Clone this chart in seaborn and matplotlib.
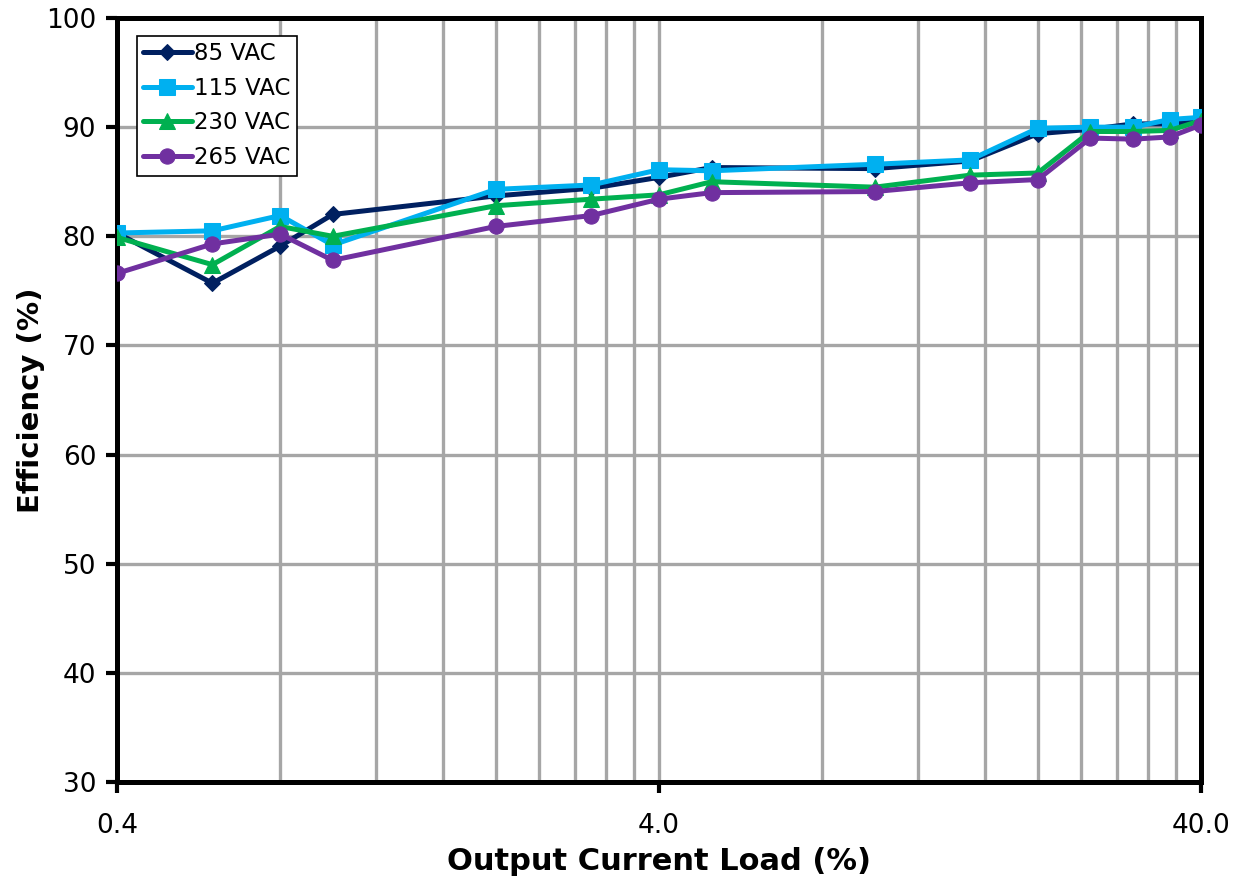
import numpy as np
import pandas as pd
import matplotlib
matplotlib.use("Agg")
import matplotlib.pyplot as plt
import seaborn as sns
from matplotlib.ticker import FixedLocator, NullFormatter

# Output current load (%) and measured efficiency (%) per input line voltage
load = [0.4, 0.6, 0.8, 1.0, 2.0, 3.0, 4.0, 5.0, 10.0, 15.0, 20.0, 25.0, 30.0, 35.0, 40.0]
eff_85 = [80.3, 75.7, 79.1, 82.0, 83.7, 84.4, 85.4, 86.3, 86.2, 86.9, 89.4, 89.8, 90.3, 90.3, 90.5]
eff_115 = [80.3, 80.5, 81.9, 79.2, 84.3, 84.7, 86.1, 86.0, 86.6, 87.0, 89.9, 90.0, 90.0, 90.7, 90.9]
eff_230 = [79.9, 77.4, 80.9, 80.0, 82.8, 83.4, 83.8, 85.0, 84.5, 85.6, 85.8, 89.6, 89.6, 89.7, 90.6]
eff_265 = [76.6, 79.3, 80.2, 77.8, 80.9, 81.9, 83.4, 84.0, 84.1, 84.9, 85.2, 89.0, 88.9, 89.1, 90.2]

series_names = ["85 VAC", "115 VAC", "230 VAC", "265 VAC"]
series_vals = [eff_85, eff_115, eff_230, eff_265]
colors = ["#002060", "#00B0F0", "#00B050", "#7030A0"]
markers = ["D", "s", "^", "o"]
msizes = [8, 11, 12, 11]

x_major = [0.4, 4.0, 40.0]
x_major_labels = ["0.4", "4.0", "40.0"]
y_ticks = [30, 40, 50, 60, 70, 80, 90, 100]

sns.set_theme(style="white")
plt.rcParams["font.family"] = ["DejaVu Sans"]
plt.rcParams["text.color"] = "black"
plt.rcParams["axes.labelcolor"] = "black"
plt.rcParams["xtick.color"] = "black"
plt.rcParams["ytick.color"] = "black"

fig = plt.figure(figsize=(12.43, 8.90), dpi=100)
ax = fig.add_axes([117 / 1243, 1 - 782 / 890, (1201 - 117) / 1243, (782 - 18) / 890])

for name, vals, c, m, ms in zip(series_names, series_vals, colors, markers, msizes):
    d = pd.DataFrame({"load": load, "eff": vals})
    sns.lineplot(data=d, x="load", y="eff", ax=ax, color=c, marker=m,
                 markersize=ms, markeredgecolor=c, linewidth=3.6,
                 label=name, zorder=3)

ax.set_xscale("log")
ax.set_xlim(0.4, 40)
ax.set_ylim(30, 100)

# minor grid at multiples of each decade start
minor = [0.4 * k for k in range(2, 10)] + [4.0 * k for k in range(2, 10)]
ax.xaxis.set_major_locator(FixedLocator(x_major))
ax.set_xticklabels(x_major_labels)
ax.xaxis.set_minor_locator(FixedLocator(minor))
ax.xaxis.set_minor_formatter(NullFormatter())
ax.set_yticks(y_ticks)

ax.grid(True, which="both", axis="x", color="#A6A6A6", linewidth=2.4, zorder=0)
ax.grid(True, which="major", axis="y", color="#A6A6A6", linewidth=2.4, zorder=0)
ax.set_axisbelow(True)

for s in ax.spines.values():
    s.set_color("black")
    s.set_linewidth(3.6)
    s.set_visible(True)

ax.tick_params(axis="both", which="major", direction="out", length=8, width=3,
               color="black", labelcolor="black", labelsize=19,
               left=True, bottom=True)
ax.tick_params(axis="x", which="major", pad=14)
ax.tick_params(axis="y", which="major", pad=7)
ax.tick_params(axis="x", which="minor", length=0)

ax.set_xlabel("Output Current Load (%)", fontsize=22, fontweight="bold", labelpad=6)
ax.set_ylabel("Efficiency (%)", fontsize=21, fontweight="bold")
ax.yaxis.set_label_coords(-0.066, 0.5)

leg = ax.legend(loc="upper left", bbox_to_anchor=(0.018, 0.977), fontsize=16.5,
                frameon=True, fancybox=False, edgecolor="black", framealpha=1,
                handlelength=2.1, handletextpad=0.1, borderpad=0.3,
                labelspacing=0.5, borderaxespad=0)
leg.get_frame().set_linewidth(1.2)

fig.savefig("out.png", dpi=100)
